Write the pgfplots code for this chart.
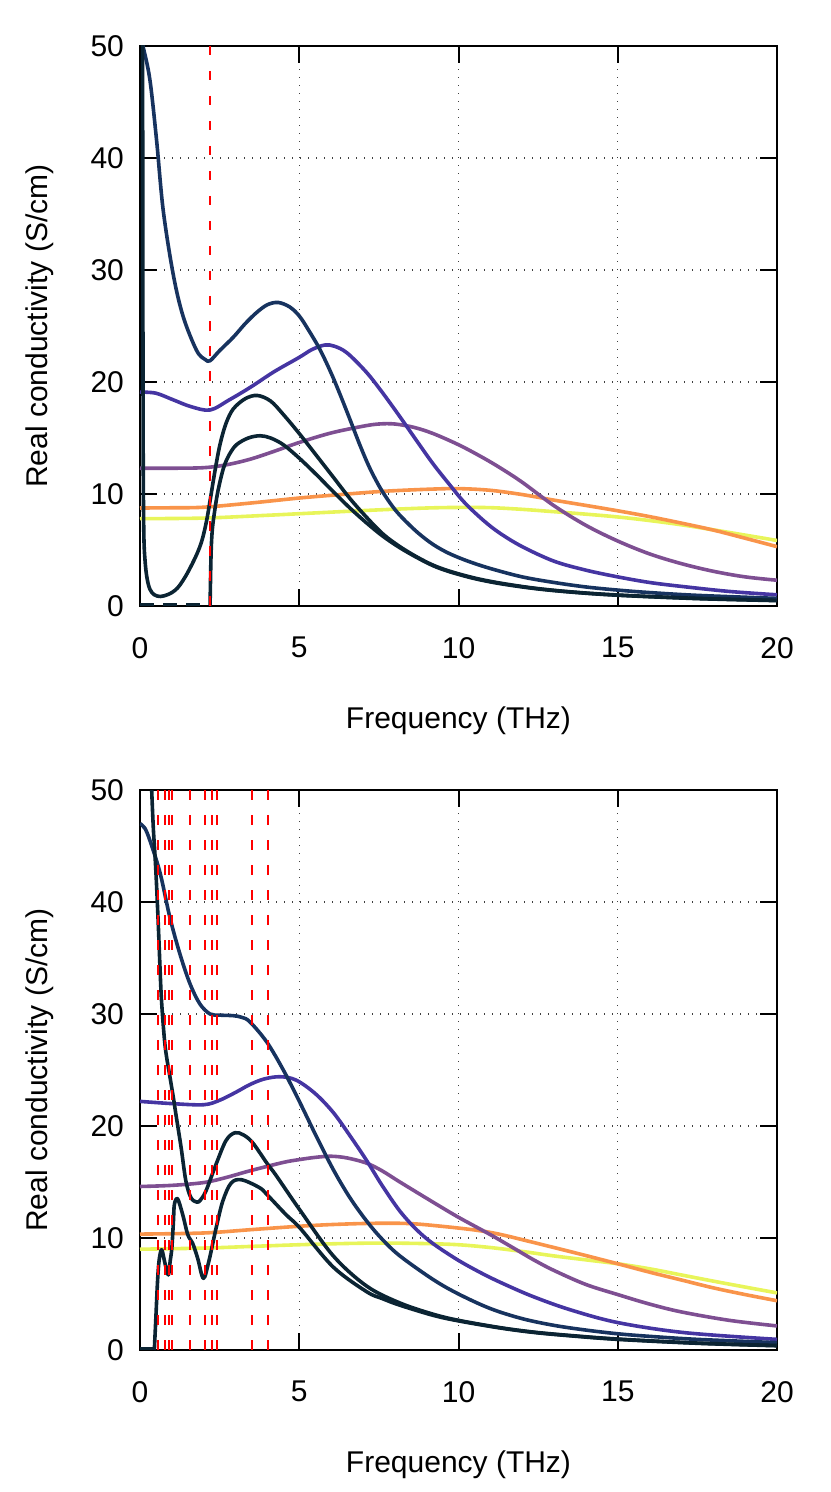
\documentclass[border=0pt]{standalone}
\usepackage{fontspec}
\setmainfont{Liberation Sans}
\usepackage{pgfplots}
\pgfplotsset{compat=1.18}
\definecolor{cE}{HTML}{E8F55A}
\definecolor{cD}{HTML}{F9944A}
\definecolor{cC}{HTML}{7E4F92}
\definecolor{cB}{HTML}{4535A2}
\definecolor{cA}{HTML}{17335F}
\definecolor{cF}{HTML}{0B2433}
\pgfplotsset{
 myax/.style={
  scale only axis, width=318.5pt, height=280pt,
  xmin=0, xmax=20, ymin=0, ymax=50,
  xtick={0,5,10,15,20}, ytick={0,10,20,30,40,50},
  tick align=inside, major tick length=8.5pt,
  axis line style={line width=1pt},
  tick style={black, line width=1pt},
  xmajorgrids, ymajorgrids,
  grid style={black!75, line width=0.6pt, dash pattern=on 0.6pt off 3.4pt},
  /pgf/number format/assume math mode=true,
  tick label style={font=\fontsize{15}{18}\selectfont},
  label style={font=\fontsize{15}{18}\selectfont},
  xticklabel style={yshift=-12pt},
  yticklabel style={xshift=-4.5pt},
  xlabel={Frequency (THz)},
  ylabel={Real conductivity (S/cm)},
  xlabel style={at={(axis description cs:0.5,0)}, anchor=base, yshift=-61pt},
  ylabel style={at={(axis description cs:-0.157,0.5)}, anchor=center},
  clip=true,
 },
 crv/.style={line width=1.8pt, smooth, tension=0.55, line join=round},
 rl/.style={red, line width=1pt, dash pattern=on 4.75pt off 7.75pt},
 zl/.style={cF, line width=1.8pt, dash pattern=on 7pt off 4.5pt},
}
\begin{document}
\begin{tikzpicture}
\path (0,0) rectangle (415pt,-746pt);
% ---------------- top panel ----------------
\begin{axis}[myax, at={(70pt,-23pt)}, anchor=north west]
\addplot[crv, cE] coordinates {(0,7.8) (2,7.85) (4,8.1) (5,8.24) (6.5,8.45) (7.64,8.6) (9,8.75) (10,8.8) (11,8.78) (12,8.63) (13,8.42) (14,8.2) (15,7.95) (16,7.63) (17,7.25) (18,6.8) (19,6.33) (20,5.85)};
\addplot[crv, cD] coordinates {(0,8.75) (1,8.77) (2,8.82) (3.5,9.2) (5,9.64) (6.3,9.95) (7.64,10.24) (9,10.42) (10,10.48) (11,10.33) (12,9.95) (13,9.45) (14,8.98) (15,8.5) (16,7.98) (17,7.4) (18,6.78) (19,6.05) (20,5.3)};
\addplot[crv, cC] coordinates {(0,12.3) (1,12.3) (2,12.35) (2.7,12.6) (3.45,13.1) (4.2,13.8) (5,14.6) (6,15.45) (7,16.05) (7.5,16.25) (8,16.25) (8.6,15.95) (9.2,15.4) (10,14.4) (10.7,13.35) (11.3,12.35) (12,11.05) (13,8.95) (14,7.2) (15,5.8) (16,4.65) (17,3.78) (18,3.1) (19,2.6) (20,2.3)};
\addplot[crv, cB] coordinates {(0,19.1) (0.5,19.0) (1.05,18.4) (1.6,17.8) (2.2,17.5) (2.8,18.4) (3.45,19.5) (4.2,20.9) (5,22.2) (5.4,22.9) (5.8,23.3) (6.1,23.2) (6.5,22.6) (7.1,20.9) (7.6,19.1) (8.16,16.9) (8.7,14.7) (9.2,12.7) (9.73,10.8) (10.2,9.2) (10.8,7.6) (11.3,6.5) (12,5.3) (13,4.0) (14,3.2) (15,2.6) (16,2.1) (17,1.75) (18.5,1.3) (20,1.0)};
\addplot[crv, cA] coordinates {(0,51) (0.1,49.9) (0.31,47.0) (0.52,41.6) (0.73,35.3) (1.05,29.5) (1.36,25.8) (1.78,22.8) (2.05,22.0) (2.2,21.9) (2.5,22.8) (2.93,24.0) (3.3,25.2) (3.66,26.2) (4.0,26.9) (4.34,27.1) (4.7,26.7) (5.0,25.9) (5.3,24.6) (5.65,22.9) (6.0,20.8) (6.28,18.9) (6.6,16.6) (6.9,14.4) (7.2,12.4) (7.53,10.6) (7.85,9.2) (8.16,8.1) (8.7,6.6) (9.2,5.5) (9.7,4.7) (10.3,4.0) (11,3.35) (12,2.6) (13,2.1) (14,1.7) (15,1.42) (16,1.2) (17.5,0.95) (20,0.68)};
\addplot[crv, cF] coordinates {(2.2,0) (2.23,4.5) (2.27,6.8) (2.35,8.6) (2.45,10.3) (2.62,12.3) (2.8,13.5) (3.03,14.4) (3.4,15.0) (3.77,15.2) (4.1,15.0) (4.5,14.4) (5.0,13.2) (5.55,11.7) (6.07,10.2) (6.59,8.75) (7.12,7.4) (7.64,6.2) (8.16,5.2) (8.68,4.35) (9.2,3.6) (9.73,3.05) (10.5,2.45) (11.3,2.0) (12.36,1.57) (13.5,1.25) (15,0.96) (17.5,0.66) (20,0.48)};
\addplot[crv, cF] coordinates {(0.08,55) (0.09,30) (0.1,14) (0.12,6.5) (0.16,4.0) (0.22,2.5) (0.31,1.5) (0.45,1.0) (0.65,0.85) (0.9,1.05) (1.1,1.4) (1.26,1.9) (1.5,3.0) (1.78,4.6) (1.95,5.9) (2.09,7.6) (2.2,9.4) (2.35,12.0) (2.51,14.4) (2.7,16.3) (2.93,17.6) (3.3,18.5) (3.68,18.8) (4.1,18.3) (4.5,17.1) (5.0,15.4) (5.55,13.4) (6.07,11.5) (6.59,9.6) (7.12,7.9) (7.64,6.4) (8.16,5.3) (8.68,4.4) (9.2,3.65) (9.73,3.1) (10.5,2.5) (11.3,2.05) (12.36,1.6) (13.5,1.27) (15,0.98) (17.5,0.68) (20,0.5)};
\addplot[zl] coordinates {(0,0.15) (2.15,0.15)};
\addplot[rl] coordinates {(2.2,50) (2.2,0)};
\end{axis}
% ---------------- bottom panel ----------------
\begin{axis}[myax, at={(70pt,-395pt)}, anchor=north west]
\addplot[crv, cE] coordinates {(0,9.0) (2,9.1) (3.5,9.25) (5,9.4) (6.3,9.5) (7.6,9.55) (9,9.5) (10,9.4) (11,9.15) (12,8.8) (13,8.4) (14,8.05) (15,7.7) (16,7.25) (17,6.7) (18,6.15) (19,5.62) (20,5.1)};
\addplot[crv, cD] coordinates {(0,10.35) (2,10.45) (3.5,10.75) (5,11.05) (6,11.2) (7.1,11.3) (8,11.32) (8.7,11.25) (9.7,10.98) (10.5,10.72) (11,10.5) (11.5,10.2) (12.36,9.6) (13.7,8.65) (15,7.7) (16,6.95) (17,6.25) (18,5.55) (19,4.95) (20,4.4)};
\addplot[crv, cC] coordinates {(0,14.6) (1,14.7) (2,14.95) (2.7,15.4) (3.45,16.0) (4.5,16.75) (5,17.0) (5.5,17.2) (6,17.3) (6.5,17.15) (7.1,16.7) (7.6,16.0) (8.16,15.0) (9.2,13.2) (10,11.85) (11,10.3) (11.73,9.1) (12.36,8.05) (13,7.1) (14,5.85) (15,4.95) (16,4.1) (17,3.4) (18.5,2.65) (20,2.15)};
\addplot[crv, cB] coordinates {(0,22.2) (1,22.0) (2,21.9) (2.5,22.3) (3,23.0) (3.45,23.7) (3.9,24.2) (4.4,24.4) (4.9,24.1) (5.5,22.9) (6.07,21.2) (6.6,19.1) (7.12,16.9) (7.6,14.7) (8.16,12.4) (8.7,10.7) (9.2,9.5) (10,8.0) (10.8,6.75) (11.5,5.8) (12.36,4.75) (13.5,3.6) (15,2.45) (17.1,1.55) (20,0.95)};
\addplot[crv, cA] coordinates {(0,47.0) (0.15,46.6) (0.31,45.5) (0.63,42.6) (0.94,38.6) (1.26,35.3) (1.57,32.7) (1.88,30.9) (2.2,30.0) (2.5,29.9) (2.93,29.85) (3.2,29.7) (3.45,29.3) (3.98,27.5) (4.5,25.0) (5.02,22.1) (5.55,19.0) (6.07,16.1) (6.59,13.6) (7.12,11.5) (7.6,9.9) (8.16,8.4) (9.2,6.3) (10,5.0) (11,3.7) (12,2.8) (13,2.2) (14,1.78) (15,1.45) (16,1.22) (17.5,0.95) (20,0.66)};
\addplot[crv, cF] coordinates {(0.45,0) (0.5,3) (0.55,6.1) (0.6,8.0) (0.68,8.96) (0.78,7.8) (0.89,6.7) (0.95,8.0) (1.0,9.1) (1.05,11.5) (1.08,13.0) (1.18,13.5) (1.34,12.1) (1.5,10.3) (1.65,9.55) (1.81,8.2) (1.99,6.4) (2.16,7.9) (2.39,10.9) (2.6,13.3) (2.86,14.9) (3.19,15.2) (3.75,14.5) (3.98,13.9) (4.58,12.1) (5.02,10.9) (6.07,7.4) (7.12,5.2) (7.6,4.6) (8.16,4.0) (9.2,3.1) (10,2.6) (11.3,1.97) (12.36,1.57) (13.5,1.27) (15,0.95) (17.5,0.6) (20,0.38)};
\addplot[crv, cF] coordinates {(0.35,52) (0.37,49.8) (0.42,46.5) (0.47,44.2) (0.52,41.5) (0.58,37.6) (0.63,34) (0.68,31.0) (0.79,27.1) (0.94,24.4) (1.05,22.5) (1.13,21.0) (1.29,18.1) (1.44,15.1) (1.6,13.6) (1.79,13.2) (1.9,13.4) (2.07,14.2) (2.39,16.6) (2.7,18.7) (2.98,19.4) (3.25,19.2) (3.54,18.5) (3.98,16.7) (4.27,15.6) (5.02,12.5) (6.07,8.4) (7.12,5.7) (8.16,4.2) (9.2,3.2) (10,2.65) (11.3,2.0) (12.36,1.6) (13.5,1.3) (15,0.98) (17.5,0.62) (20,0.4)};
\addplot[zl] coordinates {(0,0.15) (0.42,0.15)};
\addplot[rl] coordinates {(0.56,50) (0.56,0)};
\addplot[rl] coordinates {(0.80,50) (0.80,0)};
\addplot[rl] coordinates {(0.90,50) (0.90,0)};
\addplot[rl] coordinates {(0.99,50) (0.99,0)};
\addplot[rl] coordinates {(1.57,50) (1.57,0)};
\addplot[rl] coordinates {(2.03,50) (2.03,0)};
\addplot[rl] coordinates {(2.25,50) (2.25,0)};
\addplot[rl] coordinates {(2.43,50) (2.43,0)};
\addplot[rl] coordinates {(3.53,50) (3.53,0)};
\addplot[rl] coordinates {(4.03,50) (4.03,0)};
\end{axis}
\end{tikzpicture}
\end{document}
